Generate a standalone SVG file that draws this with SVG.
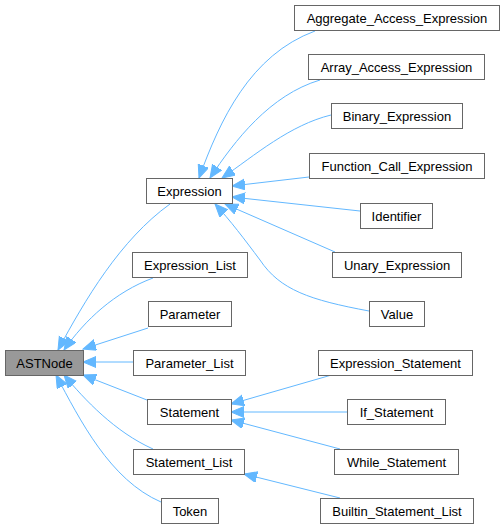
<svg xmlns="http://www.w3.org/2000/svg" width="504" height="529" viewBox="0 0 504 529">
<style>
.n rect{fill:#ffffff;stroke:#666666;stroke-width:1}
.n text{font-family:"Liberation Sans",Arial,sans-serif;font-size:13px;fill:#000000;text-anchor:middle}
#ASTNode rect{fill:#999999}
.e path{fill:none;stroke:#63b8ff;stroke-width:1;marker-end:url(#ah)}
</style>
<defs>
<marker id="ah" markerUnits="userSpaceOnUse" markerWidth="14" markerHeight="12" refX="13" refY="5.5" orient="auto">
<path d="M0,0 L13,5.5 L0,11 z" fill="#63b8ff" stroke="#63b8ff" stroke-width="1"/>
</marker>
</defs>
<rect x="0" y="0" width="504" height="529" fill="#ffffff"/>
<g class="e" id="edges">
<path d="M170,204 C120,240 85,300 58,350"/>
<path d="M153,278 C115,292 85,320 64,350"/>
<path d="M148,328 L83,349"/>
<path d="M133,362 L83,362"/>
<path d="M147,400 L83,375"/>
<path d="M153,449 C115,432 85,400 64,375"/>
<path d="M161,502 C110,480 80,420 56,375"/>
<path d="M315,31 C250,55 220,120 199,178"/>
<path d="M320,80 C270,95 235,140 210,178"/>
<path d="M331,115 C290,125 255,155 222,178"/>
<path d="M309,177 L232,186"/>
<path d="M360,211 L232,197"/>
<path d="M335,252 L225,204"/>
<path d="M369,311 C310,300 280,290 260,260 C245,240 230,220 215,204"/>
<path d="M335,374 L231,404"/>
<path d="M347,412 L231,412"/>
<path d="M340,449 L231,420"/>
<path d="M340,498 L244,474"/>
</g>
<g class="n" id="ASTNode"><rect x="5.5" y="350.5" width="78" height="25"/><text x="44.5" y="367.5">ASTNode</text></g>
<g class="n" id="Expression"><rect x="146.5" y="178.5" width="86" height="25"/><text x="189.5" y="195.5">Expression</text></g>
<g class="n" id="Expression_List"><rect x="132.5" y="252.5" width="115" height="25"/><text x="190" y="269.5">Expression_List</text></g>
<g class="n" id="Parameter"><rect x="148.5" y="301.5" width="83" height="25"/><text x="190" y="318.5">Parameter</text></g>
<g class="n" id="Parameter_List"><rect x="133.5" y="350.5" width="112" height="25"/><text x="189.5" y="367.5">Parameter_List</text></g>
<g class="n" id="Statement"><rect x="147.5" y="399.5" width="84" height="25"/><text x="189.5" y="416.5">Statement</text></g>
<g class="n" id="Statement_List"><rect x="133.5" y="449.5" width="111" height="25"/><text x="189" y="466.5">Statement_List</text></g>
<g class="n" id="Token"><rect x="161.5" y="498.5" width="57" height="25"/><text x="190" y="515.5">Token</text></g>
<g class="n" id="Aggregate_Access_Expression"><rect x="294.5" y="5.5" width="205" height="25"/><text x="397" y="22.5">Aggregate_Access_Expression</text></g>
<g class="n" id="Array_Access_Expression"><rect x="308.5" y="54.5" width="176" height="25"/><text x="396.5" y="71.5">Array_Access_Expression</text></g>
<g class="n" id="Binary_Expression"><rect x="331.5" y="103.5" width="131" height="25"/><text x="397" y="120.5">Binary_Expression</text></g>
<g class="n" id="Function_Call_Expression"><rect x="309.5" y="153.5" width="175" height="25"/><text x="397" y="170.5">Function_Call_Expression</text></g>
<g class="n" id="Identifier"><rect x="360.5" y="203.5" width="72" height="25"/><text x="396.5" y="220.5">Identifier</text></g>
<g class="n" id="Unary_Expression"><rect x="332.5" y="252.5" width="129" height="25"/><text x="397" y="269.5">Unary_Expression</text></g>
<g class="n" id="Value"><rect x="369.5" y="301.5" width="55" height="25"/><text x="397" y="318.5">Value</text></g>
<g class="n" id="Expression_Statement"><rect x="318.5" y="350.5" width="154" height="25"/><text x="395.5" y="367.5">Expression_Statement</text></g>
<g class="n" id="If_Statement"><rect x="347.5" y="399.5" width="98" height="25"/><text x="396.5" y="416.5">If_Statement</text></g>
<g class="n" id="While_Statement"><rect x="334.5" y="449.5" width="124" height="25"/><text x="396.5" y="466.5">While_Statement</text></g>
<g class="n" id="Builtin_Statement_List"><rect x="320.5" y="498.5" width="153" height="25"/><text x="397" y="515.5">Builtin_Statement_List</text></g>
</svg>
